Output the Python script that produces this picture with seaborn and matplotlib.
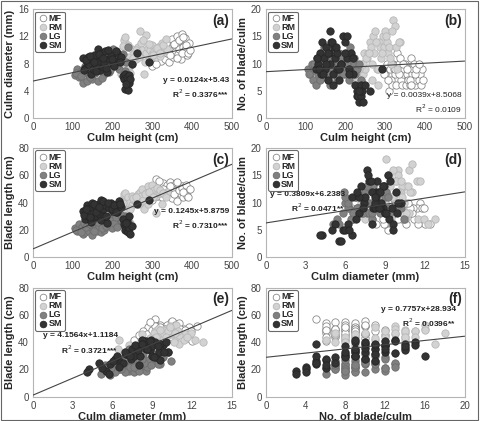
import pandas as pd
import seaborn as sns
import matplotlib.pyplot as plt
from matplotlib.patches import Rectangle

# Datos por grupo: altura de culmo (cm), diametro (mm), hojas/culmo, largo de hoja (cm)
mf_height = [295, 300, 305, 310, 312, 315, 318, 320, 322, 325, 328, 330, 332, 335, 338, 340, 342, 345,
             348, 350, 352, 355, 358, 360, 362, 365, 368, 370, 372, 375, 378, 380, 382, 385, 388, 392,
             298, 308, 316, 326, 334, 344, 354, 363, 366, 374, 377, 384, 390, 395]
mf_diam = [8.2, 7.6, 8.8, 9.2, 8.5, 9.8, 9.0, 10.2, 8.4, 9.5, 10.6, 9.1, 8.7, 10.0, 9.6, 11.2, 8.3, 10.4,
           9.3, 11.6, 8.9, 10.8, 9.7, 11.0, 12.0, 9.4, 10.1, 11.4, 8.6, 12.4, 10.5, 9.9, 11.8, 10.3, 9.2, 11.1,
           9.0, 8.0, 10.5, 9.9, 11.0, 9.2, 10.9, 8.8, 11.5, 9.6, 11.9, 10.7, 9.5, 10.0]
mf_blades = [9, 8, 10, 5, 9, 7, 6, 10, 9, 8, 6, 12, 9, 10, 11, 7, 6, 8,
             9, 10, 6, 8, 7, 9, 6, 11, 8, 9, 10, 6, 7, 8, 9, 7, 8, 9,
             8, 7, 10, 9, 8, 10, 9, 7, 6, 8, 9, 10, 6, 7]
mf_length = [44, 42, 46, 57, 48, 45, 50, 52, 47, 44, 54, 49, 51, 46, 53, 50, 48, 55,
             52, 43, 47, 51, 49, 54, 41, 48, 53, 50, 46, 52, 44, 49, 51, 47, 45, 50,
             49, 45, 56, 50, 47, 52, 46, 55, 49, 51, 48, 53, 44, 50]

rm_height = [222, 225, 228, 230, 232, 235, 238, 240, 242, 245, 248, 250, 255, 258, 262, 265, 268, 270,
             272, 275, 280, 283, 285, 288, 290, 295, 298, 300, 305, 308, 310, 315, 320, 325, 330, 338,
             226, 234, 244, 252, 260, 266, 276, 282, 292, 302, 312, 318, 328, 335]
rm_diam = [6.5, 7.2, 11.5, 6.8, 11.9, 7.0, 10.8, 7.5, 9.0, 6.6, 10.2, 8.0, 9.5, 8.6, 9.8, 10.5, 12.8, 9.2,
           11.0, 10.0, 6.4, 12.2, 9.6, 10.3, 8.4, 10.0, 9.4, 10.8, 9.8, 10.1, 9.0, 10.4, 9.1, 11.0, 9.9, 10.2,
           10.6, 6.9, 7.8, 8.8, 10.0, 9.0, 11.4, 8.2, 10.9, 9.3, 10.3, 9.6, 10.7, 11.6]
rm_blades = [9, 10, 7, 8, 7, 9, 8, 7, 10, 8, 12, 9, 11, 12, 14, 13, 7, 15,
             12, 16, 9, 6, 14, 13, 11, 15, 13, 16, 14, 12, 13, 10, 18, 17, 9, 14,
             8, 9, 10, 11, 12, 10, 14, 9, 12, 15, 11, 16, 13, 14]
rm_length = [42, 38, 46, 30, 47, 28, 44, 26, 40, 25, 45, 38, 42, 41, 44, 46, 40, 48,
             45, 50, 35, 42, 47, 52, 39, 48, 50, 53, 49, 45, 32, 47, 47, 39, 46, 48,
             40, 33, 35, 43, 44, 39, 42, 46, 48, 44, 51, 49, 47, 44]

lg_height = [105, 110, 115, 118, 122, 125, 128, 130, 135, 138, 140, 142, 145, 148, 150, 152, 155, 158, 160, 162,
             165, 168, 170, 172, 175, 178, 180, 185, 188, 190, 195, 198, 200, 205, 210, 215, 220, 225, 230, 238,
             108, 120, 132, 144, 153, 163, 173, 183, 193, 203, 208, 212, 222, 234]
lg_diam = [6.3, 7.2, 6.0, 6.5, 7.0, 5.1, 6.8, 7.6, 5.4, 8.2, 6.2, 7.4, 8.8, 5.8, 7.1, 9.3, 6.6, 7.9, 8.5, 5.5,
           7.3, 9.0, 6.9, 8.1, 7.7, 6.4, 8.6, 7.5, 9.6, 6.7, 8.3, 7.8, 10.2, 9.1, 8.0, 7.2, 8.7, 9.4, 6.9, 10.4,
           6.6, 6.2, 7.3, 6.0, 8.0, 7.5, 5.9, 8.9, 7.0, 8.4, 9.8, 7.6, 9.2, 8.2]
lg_blades = [9, 8, 10, 7, 9, 6, 11, 8, 7, 12, 9, 10, 13, 8, 11, 9, 7, 10, 12, 6,
             8, 11, 9, 13, 10, 7, 8, 12, 9, 11, 10, 8, 9, 12, 7, 11, 10, 8, 9, 7,
             8, 10, 9, 11, 8, 10, 12, 9, 8, 10, 9, 13, 11, 10]
lg_length = [21, 19, 24, 20, 22, 17, 25, 18, 23, 21, 19, 27, 24, 16, 20, 26, 22, 28, 19, 21,
             23, 30, 18, 25, 27, 20, 22, 29, 24, 26, 31, 21, 33, 28, 23, 35, 27, 24, 30, 26,
             20, 18, 22, 24, 19, 26, 21, 23, 27, 25, 29, 22, 31, 28]

sm_height = [125, 130, 135, 138, 140, 145, 148, 150, 155, 158, 160, 162, 165, 168, 170, 172, 175, 178, 180, 185,
             190, 195, 200, 205, 210, 215, 220, 225, 228, 230, 232, 235, 236, 238, 240, 242, 245, 250, 262, 292,
             128, 133, 143, 152, 157, 167, 176, 183, 188, 198, 203, 208, 218, 234]
sm_diam = [8.8, 7.4, 8.3, 9.0, 7.8, 6.5, 8.6, 7.2, 9.3, 8.0, 7.6, 10.2, 8.4, 7.0, 9.6, 8.9, 7.5, 8.1, 9.8, 6.8,
           8.7, 9.2, 7.9, 8.3, 9.5, 8.5, 9.0, 6.2, 5.8, 6.5, 4.2, 5.5, 6.0, 4.1, 5.2, 6.3, 5.7, 8.0, 9.6, 8.2,
           7.0, 8.5, 9.1, 8.2, 6.9, 9.4, 8.8, 7.3, 10.0, 8.6, 7.7, 9.9, 8.2, 5.0]
sm_blades = [9, 10, 12, 8, 14, 11, 9, 13, 7, 12, 16, 10, 14, 8, 6, 13, 11, 9, 12, 7,
             10, 15, 14, 11, 9, 12, 8, 6, 5, 4, 4, 3, 5, 4, 6, 5, 3, 6, 5, 9,
             11, 9, 8, 10, 12, 14, 13, 9, 10, 12, 15, 8, 11, 5]
sm_length = [34, 28, 38, 30, 36, 26, 40, 32, 29, 37, 30, 33, 39, 31, 27, 42, 35, 30, 38, 25,
             36, 40, 34, 38, 33, 41, 37, 28, 24, 22, 20, 19, 26, 18, 21, 30, 17, 23, 39, 42,
             31, 35, 29, 39, 33, 37, 41, 30, 40, 35, 38, 33, 39, 25]

grupos = ['MF', 'RM', 'LG', 'SM']
colores = {'MF': 'white', 'RM': '#d2d2d2', 'LG': '#808080', 'SM': '#333333'}
bordes = {'MF': '#8a8a8a', 'RM': '#b8b8b8', 'LG': '#6e6e6e', 'SM': '#262626'}

# Ecuaciones de regresion por panel
pendientes = [0.0124, 0.0039, 0.1245, 0.3809, 4.1564, 0.7757]
interceptos = [5.43, 8.5068, 5.8759, 6.2383, 1.1184, 28.934]
ecuaciones = ['y = 0.0124x+5.43\nR$^2$ = 0.3376***',
              'y = 0.0039x+8.5068\nR$^2$ = 0.0109',
              'y = 0.1245x+5.8759\nR$^2$ = 0.7310***',
              'y = 0.3809x+6.2383\nR$^2$ = 0.0471**',
              'y = 4.1564x+1.1184\nR$^2$ = 0.3721***',
              'y = 0.7757x+28.934\nR$^2$ = 0.0396**']

frames = []
for g, h, d, n, l in [('MF', mf_height, mf_diam, mf_blades, mf_length),
                      ('RM', rm_height, rm_diam, rm_blades, rm_length),
                      ('LG', lg_height, lg_diam, lg_blades, lg_length),
                      ('SM', sm_height, sm_diam, sm_blades, sm_length)]:
    frames.append(pd.DataFrame({'grupo': g, 'altura': h, 'diametro': d, 'hojas': n, 'largo': l}))
df = pd.concat(frames, ignore_index=True)

sns.set_style('white')
plt.rcParams['font.family'] = ['Liberation Sans', 'DejaVu Sans']

fig = plt.figure(figsize=(4.8, 4.21), dpi=100)

# (x, y, xlabel, ylabel, xlim, ylim, paso xticks, paso yticks, letra)
paneles = [
    ('altura', 'diametro', 'Culm height (cm)', 'Culm diameter (mm)', 500, 16, 100, 4, '(a)'),
    ('altura', 'hojas', 'Culm height (cm)', 'No. of blade/culm', 500, 20, 100, 5, '(b)'),
    ('altura', 'largo', 'Culm height (cm)', 'Blade length (cm)', 500, 80, 100, 20, '(c)'),
    ('diametro', 'hojas', 'Culm diameter (mm)', 'No. of blade/culm', 15, 20, 3, 5, '(d)'),
    ('diametro', 'largo', 'Culm diameter (mm)', 'Blade length (cm)', 15, 80, 3, 20, '(e)'),
    ('hojas', 'largo', 'No. of blade/culm', 'Blade length (cm)', 20, 80, 4, 20, '(f)'),
]
lefts = [0.069, 0.554]
bottoms = [0.720, 0.390, 0.058]
ancho, alto = 0.414, 0.258

# posicion del texto de la ecuacion (fraccion de ejes), alineacion, negrita
pos_texto = [(0.985, 0.38, 'right', 'bold'), (0.985, 0.24, 'right', 'normal'),
             (0.985, 0.45, 'right', 'bold'), (0.02, 0.61, 'left', 'bold'),
             (0.05, 0.59, 'left', 'bold'), (0.955, 0.83, 'right', 'bold')]

for i, (xv, yv, xl, yl, xmax, ymax, xs, ys, letra) in enumerate(paneles):
    ax = fig.add_axes([lefts[i % 2], bottoms[i // 2], ancho, alto])
    for g in grupos:
        sub = df[df['grupo'] == g]
        sns.scatterplot(x=xv, y=yv, data=sub, ax=ax, color=colores[g], edgecolor=bordes[g],
                        linewidth=0.6, s=28, label=g, zorder=3)
    ax.axline((0, interceptos[i]), slope=pendientes[i], color='#444444', lw=0.8, zorder=4)
    ax.set_xlim(0, xmax)
    ax.set_ylim(0, ymax)
    ax.set_xticks(range(0, xmax + 1, xs))
    ax.set_yticks(range(0, ymax + 1, ys))
    ax.tick_params(direction='in', length=2, width=0.6, color='#999999',
                   labelsize=7, labelcolor='#444444', pad=3)
    for sp in ax.spines.values():
        sp.set_color('#b5b5b5')
        sp.set_linewidth(0.8)
    ax.set_xlabel(xl, fontsize=8, fontweight='bold', labelpad=1)
    ax.set_ylabel(yl, fontsize=8, fontweight='bold', labelpad=2)
    tx, ty, ha, fw = pos_texto[i]
    ax.text(tx, ty, ecuaciones[i], transform=ax.transAxes, ha=ha, va='top',
            fontsize=6, fontweight=fw, color='#222222', linespacing=1.35, zorder=5,
            multialignment='right')
    ax.text(0.985, 0.96, letra, transform=ax.transAxes, ha='right', va='top',
            fontsize=10, fontweight='bold')
    leg = ax.legend(loc='upper left', fontsize=6.5, frameon=True, fancybox=True,
                    handletextpad=0.0, borderpad=0.25, labelspacing=0.0,
                    handlelength=1.2, markerscale=0.9, borderaxespad=0.25)
    leg.get_frame().set_edgecolor('#444444')
    leg.get_frame().set_linewidth(0.8)
    for t in leg.get_texts():
        t.set_fontweight('bold')

fig.patches.append(Rectangle((0.002, 0.002), 0.994, 0.995, transform=fig.transFigure,
                             fill=False, edgecolor='#666666', lw=0.8))

plt.savefig('out.png', dpi=100)
